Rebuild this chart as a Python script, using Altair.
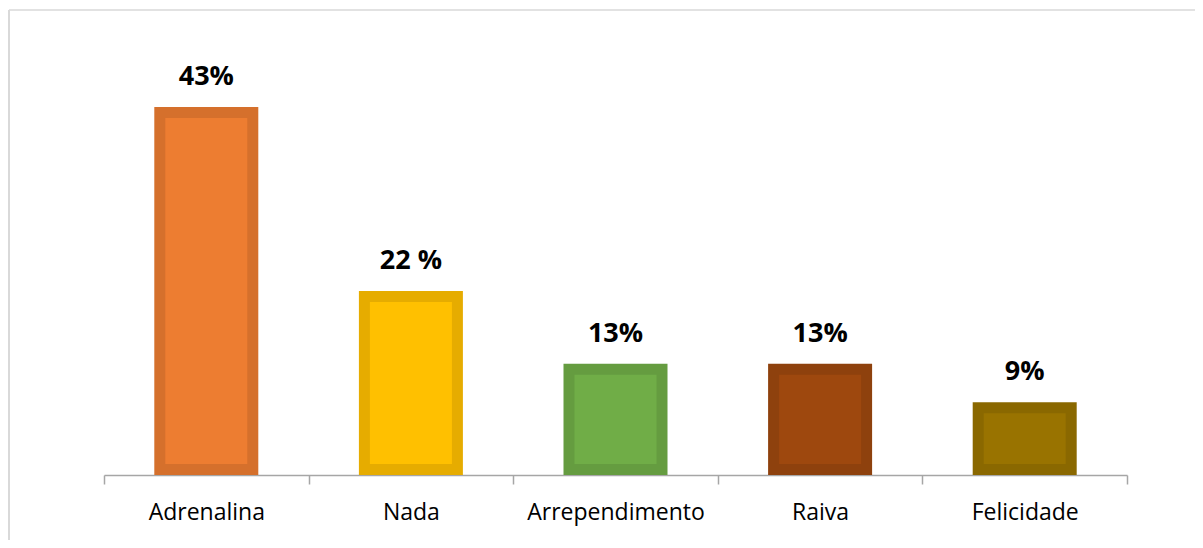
import altair as alt
import pandas as pd

categories = ["Adrenalina", "Nada", "Arrependimento", "Raiva", "Felicidade"]
values = [43, 21.5, 13, 13, 8.5]
labels = ["43%", "22 %", "13%", "13%", "9%"]
fill_colors = ["#ED7D31", "#FFC000", "#70AD47", "#9E480E", "#997300"]
edge_colors = ["#D5702C", "#E6AC00", "#659C40", "#8E410D", "#8A6800"]

df = pd.DataFrame({"cat": categories, "val": values, "lab": labels,
                   "fill": fill_colors, "edge": edge_colors})

x = alt.X("cat:N", sort=categories, title=None,
          scale=alt.Scale(paddingInner=0, paddingOuter=0),
          axis=alt.Axis(labelAngle=0, labelFont="Open Sans", labelFontSize=23,
                        labelColor="#000000", labelPadding=17, tickSize=9,
                        tickBand="extent", domainColor="#A6A6A6", tickColor="#A6A6A6",
                        domainWidth=1.5, tickWidth=1.5, grid=False))
y = alt.Y("val:Q", scale=alt.Scale(domain=[0, 50]), axis=None, title=None)

base = alt.Chart(df)

outer = base.mark_bar(width=104).encode(x=x, y=y, color=alt.Color("edge:N", scale=None))
inner = base.mark_bar(width=82, yOffset=11, y2Offset=-11).encode(
    x=x, y=y, y2=alt.datum(0), color=alt.Color("fill:N", scale=None))
text = base.mark_text(dy=-22, baseline="alphabetic", font="Open Sans", fontSize=27,
                      fontWeight="bold", color="#000000").encode(x=x, y=y, text="lab:N")

border_top = alt.Chart(pd.DataFrame({"a": [0]})).mark_rule(color="#D9D9D9", strokeWidth=1.5).encode(
    x=alt.value(-95), x2=alt.value(1100), y=alt.value(-37))
border_left = alt.Chart(pd.DataFrame({"a": [0]})).mark_rule(color="#D9D9D9", strokeWidth=2).encode(
    x=alt.value(-95), y=alt.value(-37), y2=alt.value(510))

chart = alt.layer(border_top, border_left, outer, inner, text).properties(
    width=1023, height=428,
    padding={"left": 96, "top": 39, "right": 68, "bottom": 65},
    autosize=alt.AutoSizeParams(type="none"),
).configure_view(stroke=None)

chart.save("out.html", embed_options={"renderer": "svg", "actions": False})
